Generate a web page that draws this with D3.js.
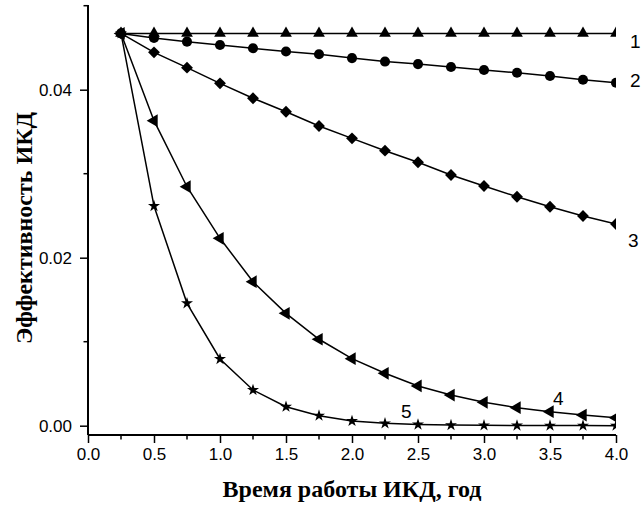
<!DOCTYPE html>
<html><head><meta charset="utf-8">
<script src="https://cdn.jsdelivr.net/npm/d3@7"></script>
<style>body{margin:0;background:#fff}</style>
</head><body>
<svg id="c" width="641" height="506"></svg>
<script>
const years = [0.25,0.5,0.75,1.0,1.25,1.5,1.75,2.0,2.25,2.5,2.75,3.0,3.25,3.5,3.75,4.0];
const series1 = [0.0467,0.0467,0.0467,0.0467,0.0467,0.0467,0.0467,0.0467,0.0467,0.0467,0.0467,0.0467,0.0467,0.0467,0.0467,0.0467];
const series2 = [0.0467,0.04615,0.04572,0.04532,0.04493,0.04455,0.04422,0.04376,0.04335,0.04305,0.04270,0.04234,0.04202,0.04163,0.04118,0.04083];
const series3 = [0.0467,0.04445,0.04262,0.04076,0.03898,0.03738,0.03568,0.03421,0.03274,0.03136,0.02985,0.02854,0.02726,0.02607,0.02496,0.02401];
const series4 = [0.0467,0.03631,0.02845,0.02231,0.01714,0.01338,0.01029,0.00798,0.00624,0.00473,0.00365,0.00278,0.00214,0.00167,0.00127,0.00095];
const series5 = [0.0467,0.02615,0.01457,0.00794,0.00425,0.00226,0.00119,0.00056,0.00028,0.00014,0.00007,0.00004,0.00002,0.00001,0.00001,0.0];
const seriesLabels = ["1","2","3","4","5"];
const xTicks = [0,0.5,1,1.5,2,2.5,3,3.5,4];
const yTicks = [0,0.02,0.04];

const svg = d3.select("#c");
const x = d3.scaleLinear().domain([0,4]).range([88,616]);
const y = d3.scaleLinear().domain([0,0.05]).range([425.7,5.7]);
const yBottom = 435;

const defs = svg.append("defs");
defs.append("clipPath").attr("id","clip").append("rect")
  .attr("x",88).attr("y",0).attr("width",528).attr("height",yBottom);

const plot = svg.append("g").attr("clip-path","url(#clip)");
const line = d3.line().x((d,i)=>x(years[i])).y(d=>y(d));

const all = [series1,series2,series3,series4,series5];
const symbols = [
  {type:d3.symbolTriangle,size:60,rot:0},
  {type:d3.symbolCircle,size:80,rot:0},
  {type:d3.symbolSquare,size:70,rot:45},
  {type:d3.symbolTriangle,size:70,rot:-90},
  {type:d3.symbolStar,size:45,rot:0}
];

[4,3,2,1,0].forEach(k=>{
  const s = all[k];
  plot.append("path").datum(s).attr("d",line)
    .attr("fill","none").attr("stroke","#000").attr("stroke-width",1.5);
  const sym = d3.symbol().type(symbols[k].type).size(symbols[k].size);
  plot.selectAll(null).data(s).enter().append("path")
    .attr("d",sym)
    .attr("transform",(d,i)=>`translate(${x(years[i])},${y(d)}) rotate(${symbols[k].rot})`)
    .attr("fill","#000");
});

const xAxis = d3.axisBottom(x).tickValues(xTicks).tickSize(8).tickFormat(d3.format(".1f"));
const gx = svg.append("g").attr("transform",`translate(0,${yBottom})`).call(xAxis);
gx.select(".domain").attr("d",`M88,0H616`).attr("stroke-width",2);
gx.selectAll(".tick line").attr("stroke-width",1.5);
gx.selectAll(".tick text").attr("font-family","Liberation Sans, Arial, sans-serif").attr("font-size",17).attr("dy","0.85em").attr("fill","#000");
const xMinor = d3.range(0.25,4,0.5);
svg.append("g").selectAll(null).data(xMinor).enter().append("line")
  .attr("x1",d=>x(d)).attr("x2",d=>x(d)).attr("y1",yBottom).attr("y2",yBottom+4.5)
  .attr("stroke","#000").attr("stroke-width",1.5);

const yAxis = d3.axisLeft(y).tickValues(yTicks).tickSize(8).tickFormat(d3.format(".2f"));
const gy = svg.append("g").attr("transform","translate(88,0)").call(yAxis);
gy.select(".domain").attr("d",`M0,5V${yBottom}`).attr("stroke-width",2);
gy.selectAll(".tick line").attr("stroke-width",1.5);
gy.selectAll(".tick text").attr("font-family","Liberation Sans, Arial, sans-serif").attr("font-size",17).attr("x",-16).attr("fill","#000");
const yMinor = [0.01,0.03,0.05];
svg.append("g").selectAll(null).data(yMinor).enter().append("line")
  .attr("x1",88).attr("x2",83.5).attr("y1",d=>y(d)).attr("y2",d=>y(d))
  .attr("stroke","#000").attr("stroke-width",1.5);

const labelPos = [{t:4.0,v:series1[15],dx:14,dy:15},{t:4.0,v:series2[15],dx:14,dy:4},{t:4.0,v:series3[15],dx:12,dy:23},{t:3.5,v:series4[13],dx:3,dy:-7},{t:2.5,v:series5[9],dx:-17,dy:-7}];
svg.append("g").selectAll(null).data(labelPos).enter().append("text")
  .attr("x",d=>x(d.t)+d.dx).attr("y",d=>y(d.v)+d.dy)
  .attr("font-family","Liberation Sans, Arial, sans-serif").attr("font-size",19)
  .text((d,i)=>seriesLabels[i]);

svg.append("text").attr("x",352).attr("y",497).attr("text-anchor","middle")
  .attr("font-family","Liberation Serif, Times New Roman, serif").attr("font-weight","bold").attr("font-size",24)
  .text("Время работы ИКД, год");
svg.append("text").attr("transform","translate(32,228) rotate(-90)").attr("text-anchor","middle")
  .attr("font-family","Liberation Serif, Times New Roman, serif").attr("font-weight","bold").attr("font-size",24)
  .text("Эффективность ИКД");
</script>
</body></html>
